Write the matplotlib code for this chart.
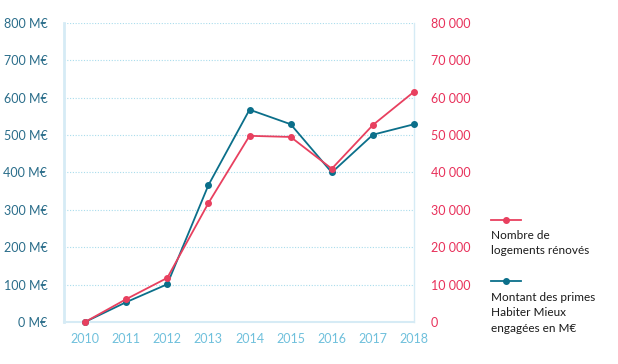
import numpy as np
import matplotlib.pyplot as plt

# donnees
annees = [2010, 2011, 2012, 2013, 2014, 2015, 2016, 2017, 2018]
montant_meur = [0, 53, 101, 366, 568, 529, 400, 501, 529]
logements = [0, 6100, 11800, 31800, 49800, 49500, 41000, 52700, 61600]
gauche_ticks = [0, 100, 200, 300, 400, 500, 600, 700, 800]
droite_ticks = [0, 10000, 20000, 30000, 40000, 50000, 60000, 70000, 80000]

TEAL = '#0b6f8a'
ROUGE = '#e8405f'
GRILLE = '#a9dcec'
AXE = '#d6ebf5'

plt.rcParams['font.family'] = ['Lato', 'DejaVu Sans']

fig = plt.figure(figsize=(6.18, 3.64), dpi=100)
ax = fig.add_axes([0.1036, 0.1154, 0.5664, 0.8216])
ax2 = ax.twinx()

ax.plot(annees, montant_meur, color=TEAL, lw=1.3, marker='o', ms=4, zorder=3, clip_on=False)
ax2.plot(annees, logements, color=ROUGE, lw=1.3, marker='o', ms=4, zorder=3, clip_on=False)

ax.set_ylim(0, 800)
ax2.set_ylim(0, 80000)
ax.set_xlim(2009.49, 2018)

ax.set_yticks(gauche_ticks)
ax.set_yticklabels([f'{v} M€' for v in gauche_ticks], color='#2a6d8a', fontsize=9)
ax2.set_yticks(droite_ticks)
ax2.set_yticklabels([f'{v:,}'.replace(',', ' ') for v in droite_ticks], color='#e8305a', fontsize=9)
ax.set_xticks(annees)
ax.set_xticklabels([str(a) for a in annees], color='#6fc0dc', fontsize=9)

ax.tick_params(axis='y', length=0, pad=12)
ax2.tick_params(axis='y', length=0, pad=12)
ax.tick_params(axis='x', length=0, pad=8)

for v in gauche_ticks[1:]:
    ax.axhline(v, color=GRILLE, lw=0.8, ls=(0, (1, 1.5)), zorder=1)

for a in (ax, ax2):
    for s in ('top', 'right', 'left', 'bottom'):
        a.spines[s].set_visible(False)
ax.spines['left'].set_visible(True)
ax.spines['left'].set_color(AXE)
ax.spines['left'].set_linewidth(2)
ax.spines['bottom'].set_visible(True)
ax.spines['bottom'].set_color(AXE)
ax.spines['bottom'].set_linewidth(1.5)
# l'axe de droite est dessine sur ax pour rester sous les points
ax.spines['right'].set_visible(True)
ax.spines['right'].set_color(AXE)
ax.spines['right'].set_linewidth(1)
ax.spines['right'].set_zorder(0.5)

# legende a droite
ya = 1 - 220 / 364
yb = 1 - 281 / 364
fig.add_artist(plt.Line2D([0.7945, 0.8425], [ya, ya], color=ROUGE, lw=1.3, transform=fig.transFigure))
fig.add_artist(plt.Line2D([0.8185], [ya], color=ROUGE, marker='o', ms=4, transform=fig.transFigure))
fig.text(0.7945, 1 - 243 / 364, 'Nombre de\nlogements rénovés', fontsize=8.5, color='#1a1a1a', va='center', linespacing=1.5)
fig.add_artist(plt.Line2D([0.7945, 0.8425], [yb, yb], color=TEAL, lw=1.3, transform=fig.transFigure))
fig.add_artist(plt.Line2D([0.8185], [yb], color=TEAL, marker='o', ms=4, transform=fig.transFigure))
fig.text(0.7945, 1 - 313 / 364, 'Montant des primes\nHabiter Mieux\nengagées en M€', fontsize=8.5, color='#1a1a1a', va='center', linespacing=1.5)

fig.savefig('out.png', dpi=100)
